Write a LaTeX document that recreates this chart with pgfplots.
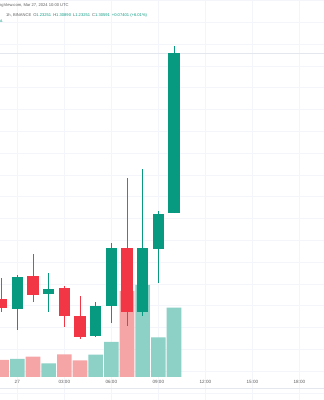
\documentclass[border=0pt]{standalone}
\usepackage{pgfplots}
\usepackage{pgfplotstable}
\pgfplotsset{compat=1.18}
\usepackage{fontspec}
\setmainfont{Liberation Sans}
\definecolor{up}{RGB}{8,153,129}
\definecolor{down}{RGB}{242,54,69}
\definecolor{volup}{RGB}{140,208,198}
\definecolor{voldown}{RGB}{246,165,166}
\definecolor{gridc}{RGB}{243,245,250}
\definecolor{sepc}{RGB}{228,231,237}
\definecolor{txt}{RGB}{90,90,90}
% hour open high low close
\pgfplotstableread{
x  open    high    low     close
-1 1.19305 1.20269 1.18709 1.18892
1  1.20361 1.21370 1.19168 1.19489
3  1.19810 1.19902 1.18021 1.18525
4  1.18525 1.19443 1.17470 1.17562
7  1.21645 1.24857 1.18067 1.18709
}\downtab
\pgfplotstableread{
x  open    high    low     close
0  1.18847 1.20407 1.17883 1.20315
2  1.19535 1.20498 1.18709 1.19764
5  1.17608 1.19168 1.17562 1.18984
6  1.18984 1.21875 1.18204 1.21645
8  1.18709 1.25270 1.18525 1.21645
9  1.21599 1.23343 1.20039 1.23205
10 1.23251 1.30890 1.23251 1.30591
}\uptab
\pgfplotsset{base/.style={at={(0,0)}, anchor=south west, scale only axis,
  width=324pt, height=400pt, xmin=-1.104, xmax=19.57},
  wick/.style={draw=none, only marks, mark=none, mark size=0pt,
    error bars/.cd, y dir=plus, y explicit, error mark=none,
    error bar style={#1, line width=0.8pt}},
  body/.style={draw=none, only marks, mark=none, mark size=0pt,
    error bars/.cd, y dir=plus, y explicit, error mark=none,
    error bar style={#1, line width=11.6pt}}}
\begin{document}
\begin{tikzpicture}
% grid and time axis
\begin{axis}[base, ymin=1.14671, ymax=1.33023,
  axis line style={draw=none}, major tick length=0pt,
  xtick={0,3,6,9,12,15,18},
  xticklabels={27,03:00,06:00,09:00,12:00,15:00,18:00},
  ytick={1.15,1.16,1.17,1.18,1.19,1.20,1.21,1.22,1.23,1.24,1.25,1.26,1.27,1.28,1.29,1.30,1.31,1.32,1.33},
  yticklabels={},
  grid=major, grid style={gridc, line width=0.6pt},
  xticklabel style={font=\fontsize{4.6}{5}\selectfont, text=txt, anchor=center, yshift=18pt, inner sep=0pt},
  xticklabel shift=0pt]
\addplot[draw=none] coordinates {(0,1.2)};
\draw[sepc, line width=0.6pt] (rel axis cs:0,0.03) -- (rel axis cs:1,0.03);
\draw[sepc, line width=0.6pt] (rel axis cs:0,0.8675) -- (rel axis cs:1,0.8675);
\end{axis}
% volume
\begin{axis}[base, ymin=-230, ymax=3770, axis lines=none, ybar, bar width=0.93]
\addplot[fill=voldown, draw=none, bar shift=0pt] coordinates {(-1,170) (1,203) (3,227) (4,167) (7,860)};
\addplot[fill=volup, draw=none, bar shift=0pt] coordinates {(0,180) (2,137) (5,223) (6,350) (8,920) (9,397) (10,693)};
\end{axis}
% candles
\begin{axis}[base, ymin=1.14671, ymax=1.33023, axis lines=none]
\addplot[wick=down] table[x=x, y=low, y error plus expr=\thisrow{high}-\thisrow{low}] {\downtab};
\addplot[wick=up] table[x=x, y=low, y error plus expr=\thisrow{high}-\thisrow{low}] {\uptab};
\addplot[body=down] table[x=x, y=close, y error plus expr=\thisrow{open}-\thisrow{close}] {\downtab};
\addplot[body=up] table[x=x, y=open, y error plus expr=\thisrow{close}-\thisrow{open}] {\uptab};
\node[anchor=west, inner sep=0pt, text=txt, font=\fontsize{4.1}{5}\selectfont] at (rel axis cs:0,0.9875) {\hspace{-1pt}ngView.com, Mar 27, 2024 10:00 UTC};
\node[anchor=west, inner sep=0pt, font=\fontsize{4.1}{5}\selectfont] at (rel axis cs:0.0185,0.9625) {\color{txt}1h, BINANCE\hspace{2pt}O\color{up}1.23251\hspace{2pt}\color{txt}H\color{up}1.30890\hspace{2pt}\color{txt}L\color{up}1.23251\hspace{2pt}\color{txt}C\color{up}1.30591\hspace{2pt}+0.07401 (+6.01\%)};
\node[anchor=west, inner sep=0pt, text=up, font=\fontsize{4.1}{5}\selectfont] at (rel axis cs:0,0.9475) {\hspace{-1.5pt}ut.};
\end{axis}
\pgfresetboundingbox
\useasboundingbox (0,0) rectangle (324pt,400pt);
\end{tikzpicture}
\end{document}
